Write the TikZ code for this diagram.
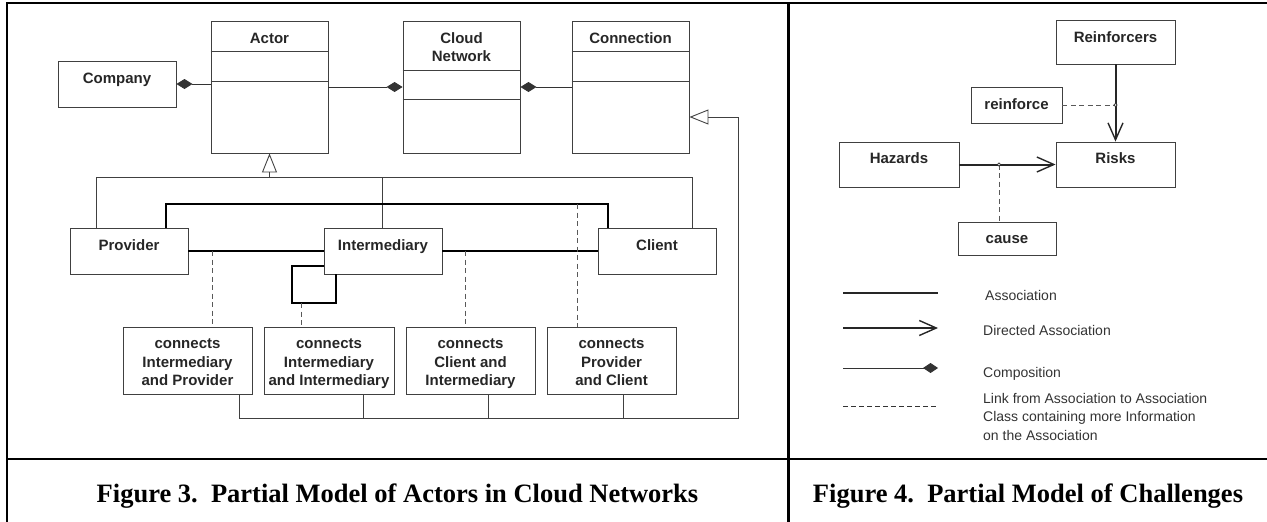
\documentclass[tikz,border=0pt]{standalone}
\usepackage{fontspec}
\setmainfont{Liberation Sans}
\newfontfamily\capfont{Liberation Serif}
\usetikzlibrary{arrows.meta}
\begin{document}
\begin{tikzpicture}[x=1pt,y=-1pt,
  box/.style={draw=black!75, line width=0.9pt, inner sep=0pt},
  divline/.style={draw=black!75, line width=0.9pt},
  lbl/.style={font=\fontsize{15}{18.5}\selectfont\bfseries, inner sep=0pt, text=black!85},
  gline/.style={draw=black!75, line width=0.9pt},
  assoc/.style={draw=black, line width=2.3pt},
  link/.style={draw=black!65, line width=0.9pt, dash pattern=on 5pt off 3.5pt},
  comp/.style={draw=black!80, line width=0.9pt},
  dassoc/.style={draw=black!85, line width=2pt},
  gentip/.style={-{Triangle[open,length=19pt,width=15pt,line width=0.9pt]}},
  vtip/.style={-{Straight Barb[length=17pt,width=15pt,line width=1.4pt]}},
  frame/.style={draw=black, line width=2.6pt},
  legtxt/.style={font=\fontsize{14}{18.5}\selectfont, inner sep=0pt, text=black!80},
  captxt/.style={font=\fontsize{26.5}{30}\selectfont\capfont\bfseries, inner sep=0pt, anchor=base}
]
\useasboundingbox (0,0) rectangle (1267,522);

% ---------- frame ----------
\draw[frame] (7,522) -- (7,3) -- (1267,3);
\draw[frame] (788.5,3) -- (788.5,522);
\draw[frame] (7,459) -- (1267,459);

% ---------- Figure 3 ----------
\node[box, minimum width=118pt, minimum height=46pt] (company) at (117,84) {};
\node[lbl, anchor=base] (tcompany) at (117,83) {Company};

\node[box, minimum width=117pt, minimum height=132pt] (actor) at (269.5,87) {};
\node[lbl, anchor=base] (tactor) at (269.5,43) {Actor};
\draw[divline] ([yshift=-31pt]actor.north west) -- ([yshift=-31pt]actor.north east);
\draw[divline] ([yshift=-61pt]actor.north west) -- ([yshift=-61pt]actor.north east);

\node[box, minimum width=117pt, minimum height=132pt] (cloud) at (461.5,87) {};
\node[lbl, anchor=north, align=center] (tcloud) at (461.5,32.3) {Cloud\\Network};
\draw[divline] ([yshift=-50pt]cloud.north west) -- ([yshift=-50pt]cloud.north east);
\draw[divline] ([yshift=-79pt]cloud.north west) -- ([yshift=-79pt]cloud.north east);

\node[box, minimum width=117pt, minimum height=132pt] (conn) at (630.5,87) {};
\node[lbl, anchor=base] (tconn) at (630.5,43) {Connection};
\draw[divline] ([yshift=-31pt]conn.north west) -- ([yshift=-31pt]conn.north east);
\draw[divline] ([yshift=-61pt]conn.north west) -- ([yshift=-61pt]conn.north east);

\node[box, minimum width=118pt, minimum height=46pt] (provider) at (129,251) {};
\node[lbl, anchor=base] (tprovider) at (129,250) {Provider};
\node[box, minimum width=118pt, minimum height=46pt] (inter) at (383,251) {};
\node[lbl, anchor=base] (tinter) at (383,250) {Intermediary};
\node[box, minimum width=118pt, minimum height=46pt] (client) at (657,251) {};
\node[lbl, anchor=base] (tclient) at (657,250) {Client};

\node[box, minimum width=129pt, minimum height=67pt] (b1) at (187.5,360.5) {};
\node[lbl, anchor=north, align=center] (tb1) at (187.5,338.6) {connects\\Intermediary\\and Provider};
\node[box, minimum width=130pt, minimum height=67pt] (b2) at (329,360.5) {};
\node[lbl, anchor=north, align=center] (tb2) at (329,338.6) {connects\\Intermediary\\and Intermediary};
\node[box, minimum width=129pt, minimum height=67pt] (b3) at (470.5,360.5) {};
\node[lbl, anchor=north, align=center] (tb3) at (470.5,338.6) {connects\\Client and\\Intermediary};
\node[box, minimum width=129pt, minimum height=67pt] (b4) at (611.5,360.5) {};
\node[lbl, anchor=north, align=center] (tb4) at (611.5,338.6) {connects\\Provider\\and Client};

% compositions
\draw[comp, {Diamond[length=16pt,width=10pt]}-] (company.east) -- (actor.west |- company.east);
\draw[comp, -{Diamond[length=16pt,width=10pt]}] (actor.east) -- (cloud.west);
\draw[comp, {Diamond[length=16pt,width=10pt]}-] (cloud.east) -- (conn.west);

% generalization to Actor
\coordinate (gbusL) at (96,177);
\coordinate (gbusM) at (382,177);
\coordinate (gbusR) at (692,177);
\draw[gline] (provider.north -| gbusL) -- (gbusL) -- (gbusR) -- (client.north -| gbusR);
\draw[gline] (inter.north -| gbusM) -- (gbusM);
\draw[gline, gentip] (actor.south |- gbusL) -- (actor.south);

% associations
\coordinate (pcL) at (166,204);
\coordinate (pcR) at (608,204);
\draw[assoc] (provider.north -| pcL) -- (pcL) -- (pcR) -- (client.north -| pcR);
\draw[assoc] (provider.east) -- (inter.west);
\draw[assoc] (inter.east) -- (client.west);
\coordinate (loop1) at (292,266);
\coordinate (loop2) at (336,303);
\draw[assoc] (inter.west |- loop1) -- (loop1) |- (loop2) -- (loop2 |- inter.south);

% association class links
\coordinate (da1) at (212,251);
\coordinate (da2) at (301,303);
\coordinate (da3) at (465,251);
\coordinate (da4) at (577,204);
\draw[link] (da1) -- (da1 |- b1.north);
\draw[link] (da2) -- (da2 |- b2.north);
\draw[link] (da3) -- (da3 |- b3.north);
\draw[link] (da4) -- (da4 |- b4.north);

% generalization to Connection
\coordinate (bb1) at (239,418);
\coordinate (bb2) at (363,418);
\coordinate (bb3) at (488,418);
\coordinate (bb4) at (623,418);
\coordinate (bbR) at (738,418);
\coordinate (gR) at (738,117);
\draw[gline, gentip] (b1.south -| bb1) -- (bb1) -- (bbR) -- (gR) -- (gR -| conn.east);
\draw[gline] (b2.south -| bb2) -- (bb2);
\draw[gline] (b3.south -| bb3) -- (bb3);
\draw[gline] (b4.south -| bb4) -- (bb4);

% ---------- Figure 4 ----------
\node[box, minimum width=119pt, minimum height=44pt] (reinf) at (1115.5,42) {};
\node[lbl, anchor=base] (treinf) at (1115.5,42) {Reinforcers};
\node[box, minimum width=91pt, minimum height=36pt] (reinforce) at (1016.5,105) {};
\node[lbl, anchor=base] (treinforce) at (1016.5,109) {reinforce};
\node[box, minimum width=119pt, minimum height=45pt] (risks) at (1115.5,164.5) {};
\node[lbl, anchor=base] (trisks) at (1115.5,163) {Risks};
\node[box, minimum width=120pt, minimum height=45pt] (hazards) at (899,164.5) {};
\node[lbl, anchor=base] (thazards) at (899,163) {Hazards};
\node[box, minimum width=98pt, minimum height=33pt] (cause) at (1007,238.5) {};
\node[lbl, anchor=base] (tcause) at (1007,243) {cause};

\draw[dassoc, vtip] (reinf.south) -- (risks.north);
\draw[dassoc, vtip] (hazards.east) -- (risks.west);
\coordinate (j1) at (1115.5,105);
\coordinate (j2) at (999,164.5);
\draw[link] (reinforce.east) -- (j1);
\draw[link] (j2) -- (j2 |- cause.north);
\draw[black!80, line width=0.6pt, fill=white] (j1) circle[radius=1.6pt];
\draw[black!80, line width=0.6pt, fill=white] (j2) circle[radius=1.6pt];

% legend
\coordinate (l1a) at (843,293); \coordinate (l1b) at (938,293);
\coordinate (l2a) at (843,328); \coordinate (l2b) at (938,328);
\coordinate (l3a) at (843,368); \coordinate (l3b) at (938,368);
\coordinate (l4a) at (843,406); \coordinate (l4b) at (938,406);
\draw[dassoc] (l1a) -- (l1b);
\draw[dassoc, vtip] (l2a) -- (l2b);
\draw[comp, -{Diamond[length=15pt,width=10pt]}] (l3a) -- (l3b);
\draw[link, black!80, dash pattern=on 5pt off 3pt] (l4a) -- (l4b);
\node[legtxt, anchor=base west] (lg1) at (985,300) {Association};
\node[legtxt, anchor=base west] (lg2) at (983,335) {Directed Association};
\node[legtxt, anchor=base west] (lg3) at (983,377) {Composition};
\node[legtxt, anchor=north west, align=left] (lg4) at (983,393) {Link from Association to Association\\Class containing more Information\\on the Association};

% ---------- captions ----------
\node[captxt] (cap3) at (397.5,502) {Figure 3.\hspace{0.5em}Partial Model of Actors in Cloud Networks};
\node[captxt] (cap4) at (1028,502) {Figure 4.\hspace{0.5em}Partial Model of Challenges};
\end{tikzpicture}
\end{document}
